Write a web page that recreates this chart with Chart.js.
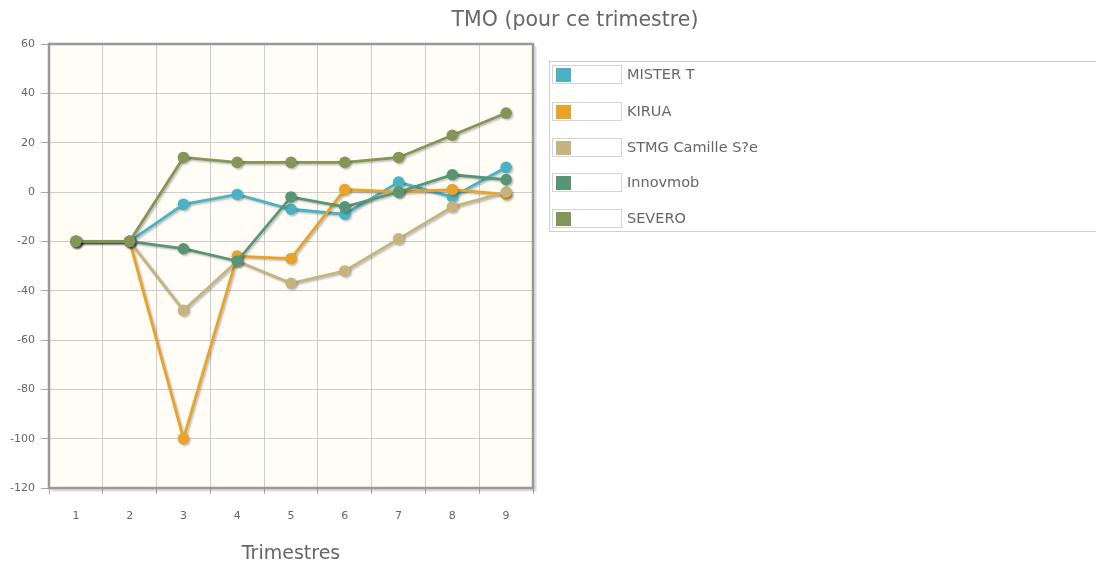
<!DOCTYPE html>
<html>
<head>
<meta charset="utf-8">
<title>TMO (pour ce trimestre)</title>
<script src="https://cdn.jsdelivr.net/npm/chart.js@4.4.1/dist/chart.umd.min.js"></script>
<style>
  html, body { margin: 0; padding: 0; background: #fff; }
  #wrap { position: relative; width: 1096px; height: 563px; overflow: hidden;
          font-family: "DejaVu Sans", Verdana, sans-serif; color: #666; }
  #plot { position: absolute; left: 0; top: 0; }
  #title { position: absolute; top: 7px; left: 375px; width: 400px; text-align: center;
           font-size: 20.5px; color: #666; white-space: nowrap; }
  #legend { position: absolute; left: 549px; top: 61px; width: 620px; height: 171px;
            border: 1px solid #cfcfcf; box-sizing: border-box; }
  .item { position: absolute; left: 2px; height: 20px; }
  .swatch { position: absolute; left: 0; top: 0; width: 70px; height: 19px;
            border: 1px solid #d4d4d4; box-sizing: border-box; background: #fff; }
  .swatch span { position: absolute; left: 3px; top: 2px; width: 15px; height: 14px; }
  .label { position: absolute; left: 75px; top: 0px; font-size: 14.5px; line-height: 19px;
           color: #666; white-space: nowrap; }
</style>
</head>
<body>
<div id="wrap">
  <canvas id="plot" width="1096" height="563"></canvas>
  <div id="title">TMO (pour ce trimestre)</div>
  <div id="legend"></div>
</div>
<script>
// Quarters on the horizontal axis
const categories = ['1', '2', '3', '4', '5', '6', '7', '8', '9'];

// TMO per quarter for each team
const misterT  = [-20, -20,   -5,  -1,  -7,  -9,   4,  -2,  10];
const kirua    = [-20, -20, -100, -26, -27,   1,   0,   1,  -1];
const stmg     = [-20, -20,  -48, -28, -37, -32, -19,  -6,   0];
const innovmob = [-20, -20,  -23, -28,  -2,  -6,   0,   7,   5];
const severo   = [-20, -20,   14,  12,  12,  12,  14,  23,  32];

const seriesNames  = ['MISTER T', 'KIRUA', 'STMG Camille S?e', 'Innovmob', 'SEVERO'];
const seriesValues = [misterT, kirua, stmg, innovmob, severo];
const seriesColors = ['#4bb2c5', '#EAA228', '#c5b47f', '#579575', '#839557'];

// Y axis range and step
const yMin = -120;
const yMax = 60;
const yStep = 20;

const FONT = '"DejaVu Sans", Verdana, sans-serif';

// Cream plot background
const plotBackground = {
  id: 'plotBackground',
  beforeDraw(chart) {
    const { ctx, chartArea: a } = chart;
    ctx.save();
    ctx.fillStyle = '#fffdf6';
    ctx.fillRect(a.left, a.top, a.right - a.left, a.bottom - a.top);
    ctx.restore();
  }
};

// Grey frame with a soft drop shadow around the plot area
const plotFrame = {
  id: 'plotFrame',
  beforeDatasetsDraw(chart) {
    const { ctx, chartArea: a } = chart;
    ctx.save();
    for (let i = 1; i <= 3; i++) {
      ctx.strokeStyle = 'rgba(0,0,0,0.07)';
      ctx.lineWidth = 2;
      ctx.beginPath();
      ctx.moveTo(a.left + i, a.bottom + i);
      ctx.lineTo(a.right + i, a.bottom + i);
      ctx.lineTo(a.right + i, a.top + i);
      ctx.stroke();
    }
    ctx.strokeStyle = '#999999';
    ctx.lineWidth = 2.5;
    ctx.strokeRect(a.left, a.top, a.right - a.left, a.bottom - a.top);
    ctx.restore();
  }
};

// Drop shadow under each series line and its markers
const seriesShadow = {
  id: 'seriesShadow',
  beforeDatasetDraw(chart) {
    const ctx = chart.ctx;
    ctx.save();
    ctx.shadowColor = 'rgba(0,0,0,0.25)';
    ctx.shadowOffsetX = 1.5;
    ctx.shadowOffsetY = 1.5;
    ctx.shadowBlur = 2;
  },
  afterDatasetDraw(chart) {
    chart.ctx.restore();
  }
};

const datasets = seriesValues.map((values, i) => ({
  label: seriesNames[i],
  data: values,
  borderColor: seriesColors[i],
  backgroundColor: seriesColors[i],
  borderWidth: 2.8,
  pointRadius: 5.8,
  pointHoverRadius: 5.8,
  pointBorderWidth: 0,
  tension: 0,
  fill: false,
  order: seriesValues.length - i
}));

const chart = new Chart(document.getElementById('plot'), {
  type: 'line',
  data: { labels: categories, datasets },
  options: {
    responsive: false,
    animation: false,
    events: [],
    layout: { padding: { left: 0, top: 44, right: 563, bottom: 0 } },
    plugins: {
      legend: { display: false },
      tooltip: { enabled: false },
      title: { display: false }
    },
    scales: {
      x: {
        offset: true,
        grid: { offset: true, color: '#cccccc', tickColor: '#aaaaaa', tickLength: 6, lineWidth: 1 },
        border: { display: false },
        ticks: { color: '#666', font: { family: FONT, size: 11 }, padding: 16, maxRotation: 0 },
        title: {
          display: true, text: 'Trimestres', color: '#666',
          font: { family: FONT, size: 19 }, padding: { top: 0, bottom: -2 }
        },
        afterFit(scale) { scale.height = 75; }
      },
      y: {
        min: yMin,
        max: yMax,
        ticks: { stepSize: yStep, color: '#666', font: { family: FONT, size: 11 }, padding: 6 },
        grid: { color: '#cccccc', tickColor: '#aaaaaa', tickLength: 8, lineWidth: 1 },
        border: { display: false },
        afterFit(scale) { scale.width = 49; }
      }
    }
  },
  plugins: [plotBackground, plotFrame, seriesShadow]
});

// Legend box built from the same series
const legend = document.getElementById('legend');
const rowTops = [3, 40, 76, 111, 147];
seriesNames.forEach((name, i) => {
  const item = document.createElement('div');
  item.className = 'item';
  item.style.top = rowTops[i] + 'px';
  const sw = document.createElement('div');
  sw.className = 'swatch';
  const chip = document.createElement('span');
  chip.style.background = seriesColors[i];
  sw.appendChild(chip);
  const lab = document.createElement('div');
  lab.className = 'label';
  lab.textContent = name;
  item.appendChild(sw);
  item.appendChild(lab);
  legend.appendChild(item);
});
</script>
</body>
</html>
